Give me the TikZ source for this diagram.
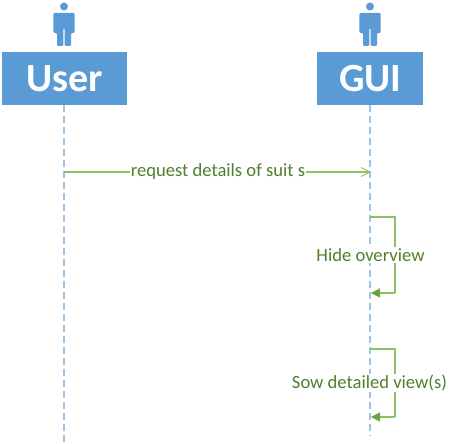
\documentclass[tikz,border=0pt]{standalone}
\usepackage{fontspec}
\setmainfont{Carlito}
\usetikzlibrary{arrows.meta}
\definecolor{boxblue}{HTML}{5B9BD5}
\definecolor{lifeblue}{HTML}{9DC3E6}
\definecolor{msggreen}{HTML}{8CC168}
\definecolor{tipgreen}{HTML}{6AA23F}
\definecolor{txtgreen}{HTML}{4F7F2F}
\tikzset{
  x=1pt,y=-1pt,
  actorbox/.style={fill=boxblue,text=white,inner sep=0pt,font=\fontsize{40}{40}\selectfont\bfseries,anchor=north west},
  lifeline/.style={lifeblue,line width=1.1pt,dash pattern=on 7pt off 4pt},
  msg/.style={msggreen,line width=1.1pt},
  msglabel/.style={fill=white,text=txtgreen,inner sep=1pt,font=\fontsize{18.6}{18.6}\selectfont},
  actoricon/.style={fill=boxblue,draw=none},
}
\newcommand{\actoricon}[1]{%
  \fill[actoricon] (#1,6.5) circle (4);
  \fill[actoricon,rounded corners=1.2pt] (#1-10.7,13) -- (#1+10.7,13) -- (#1+10.7,33) -- (#1+7,33) -- (#1+7,46) -- (#1+0.7,46) -- (#1+0.7,28) -- (#1-0.7,28) -- (#1-0.7,46) -- (#1-7,46) -- (#1-7,33) -- (#1-10.7,33) -- cycle;
}
\begin{document}
\begin{tikzpicture}
\useasboundingbox (0,0) rectangle (458,444);
\actoricon{64}
\actoricon{370}
\node[actorbox,minimum width=125pt,minimum height=53pt] (user) at (2,52) {User};
\node[actorbox,minimum width=106pt,minimum height=53pt] (gui) at (317,52) {GUI};
\coordinate (userend) at (64,442);
\coordinate (guiend) at (370,436);
\draw[lifeline] (user.south -| userend) -- (userend);
\draw[lifeline] (gui.south -| guiend) -- (guiend);
\coordinate (reqa) at (64,172);
\coordinate (reqb) at (371,172);
\node[msglabel] (req) at (218,172) {request details of suit s};
\draw[msg] (reqa) -- (req.west);
\draw[msg,-{Straight Barb[length=9pt,width=9pt,line width=0.8pt]}] (req.east) -- (reqb);
\coordinate (ha) at (370,217);
\coordinate (hb) at (395,217);
\coordinate (hc) at (395,293);
\coordinate (hd) at (371,293);
\draw[msg] (ha) -- (hb) -- (hc);
\draw[msg,-{Triangle[length=9pt,width=9pt,fill=tipgreen,color=tipgreen]}] (hc) -- (hd);
\node[msglabel] (hide) at (370.5,255) {Hide overview};
\coordinate (sa) at (370,349);
\coordinate (sb) at (395,349);
\coordinate (sc) at (395,417);
\coordinate (sd) at (371,417);
\draw[msg] (sa) -- (sb) -- (sc);
\draw[msg,-{Triangle[length=9pt,width=9pt,fill=tipgreen,color=tipgreen]}] (sc) -- (sd);
\node[msglabel] (show) at (369.5,383) {Sow detailed view(s)};
\end{tikzpicture}
\end{document}
